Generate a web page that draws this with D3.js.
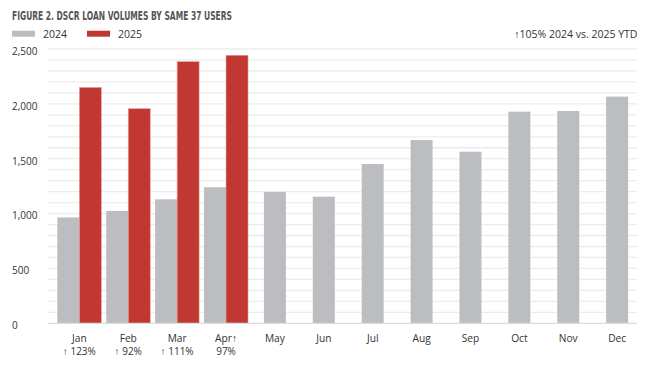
<!DOCTYPE html>
<html>
<head>
<meta charset="utf-8">
<script src="https://cdn.jsdelivr.net/npm/d3@7"></script>
<style>
  html, body { margin: 0; padding: 0; background: #fff; }
  svg { display: block; }
</style>
</head>
<body>
<svg id="chart" width="650" height="372"></svg>
<script>
const months = ["Jan","Feb","Mar","Apr","May","Jun","Jul","Aug","Sep","Oct","Nov","Dec"];
const values2024 = [965, 1024, 1130, 1240, 1197, 1154, 1452, 1670, 1564, 1929, 1935, 2066];
const values2025 = [2150, 1956, 2385, 2443];
const changeLabels = ["\u2191 123%", "\u2191 92%", "\u2191 111%", "97%"];
const monthLabels = ["Jan","Feb","Mar","Apr\u2191","May","Jun","Jul","Aug","Sep","Oct","Nov","Dec"];
const yTicks = [0, 500, 1000, 1500, 2000, 2500];
const seriesNames = ["2024", "2025"];
const titleText = "FIGURE 2. DSCR LOAN VOLUMES BY SAME 37 USERS";
const noteText = "\u2191105% 2024 vs. 2025 YTD";

const colors = { "2024": "#bcbdc0", "2025": "#c13832" };
const svg = d3.select("#chart");
const font = "'Open Sans', 'Noto Sans', sans-serif";

const plotLeft = 48, plotRight = 637;
const y = d3.scaleLinear().domain([0, 2500]).range([323.3, 49]);
const x = d3.scaleBand().domain(months).range([54.9, 641.6]).paddingInner(0.1).paddingOuter(0.05);
const xs = d3.scaleBand().domain(seriesNames).range([0, x.bandwidth()]);

// Title
svg.append("text")
  .attr("x", 12).attr("y", 20)
  .attr("font-family", "'Liberation Sans Narrow', 'DejaVu Sans Condensed', sans-serif")
  .attr("font-weight", "bold")
  .attr("font-size", 12.5)
  .attr("fill", "#555555")
  .attr("textLength", 220)
  .attr("lengthAdjust", "spacingAndGlyphs")
  .text(titleText);

// Legend
const legendX = [12, 87];
seriesNames.forEach((s, i) => {
  const g = svg.append("g").attr("transform", `translate(${legendX[i]},0)`);
  g.append("rect").attr("x", 0).attr("y", 30.7).attr("width", 23).attr("height", 6).attr("fill", colors[s]);
  g.append("text").attr("x", 31).attr("y", 37.5)
    .attr("font-family", font).attr("font-size", 10.5).attr("fill", "#333").text(s);
});

svg.append("text")
  .attr("x", 637.5).attr("y", 37.5)
  .attr("text-anchor", "end")
  .attr("font-family", font).attr("font-size", 10.5).attr("fill", "#333")
  .text(noteText);

// Gridlines every 100
const gridVals = d3.range(100, 2501, 100);
svg.append("g").selectAll("line").data(gridVals).join("line")
  .attr("x1", plotLeft).attr("x2", plotRight)
  .attr("y1", d => y(d)).attr("y2", d => y(d))
  .attr("stroke", "#ececec").attr("stroke-width", 1.3);

// Y axis labels
const yAxis = d3.axisLeft(y).tickValues(yTicks).tickFormat(d3.format(",")).tickSize(0);
const yg = svg.append("g").attr("transform", "translate(12,0)").call(yAxis);
yg.select(".domain").remove();
yg.selectAll("text")
  .attr("text-anchor", "start").attr("x", 0).attr("dy", "0.85em").attr("y", -3.2)
  .attr("font-family", font).attr("font-size", 10).attr("fill", "#333");

// Bars
const barsG = svg.append("g");
months.forEach((m, i) => {
  const has2025 = i < values2025.length;
  const bw = xs.bandwidth();
  const gx = has2025 ? x(m) + xs("2024") : x(m) + (x.bandwidth() - bw) / 2;
  barsG.append("rect")
    .attr("x", gx).attr("y", y(values2024[i]))
    .attr("width", bw).attr("height", y(0) - y(values2024[i]))
    .attr("fill", colors["2024"]);
  if (has2025) {
    barsG.append("rect")
      .attr("x", x(m) + xs("2025")).attr("y", y(values2025[i]))
      .attr("width", bw).attr("height", y(0) - y(values2025[i]))
      .attr("fill", colors["2025"])
      .attr("stroke", "#e6a49e").attr("stroke-width", 0.6);
  }
});

// Baseline
svg.append("line")
  .attr("x1", plotLeft).attr("x2", plotRight)
  .attr("y1", y(0)).attr("y2", y(0))
  .attr("stroke", "#dcdcdc").attr("stroke-width", 1.3);

// X axis (month + change line as one text with tspans)
const xAxis = d3.axisBottom(x).tickSize(0).tickFormat("");
const xg = svg.append("g").attr("transform", `translate(0,${y(0)})`).call(xAxis);
xg.select(".domain").remove();
xg.selectAll(".tick text").each(function(d, i) {
  const t = d3.select(this)
    .attr("y", 19).attr("dy", 0)
    .attr("font-family", font).attr("font-size", 10.2).attr("fill", "#333");
  t.append("tspan").attr("x", 0).attr("y", 19).text(monthLabels[i]);
  if (i < changeLabels.length) {
    t.append("tspan").attr("x", 0).attr("y", 32).attr("font-size", 10).text(changeLabels[i]);
  }
});
</script>
</body>
</html>
